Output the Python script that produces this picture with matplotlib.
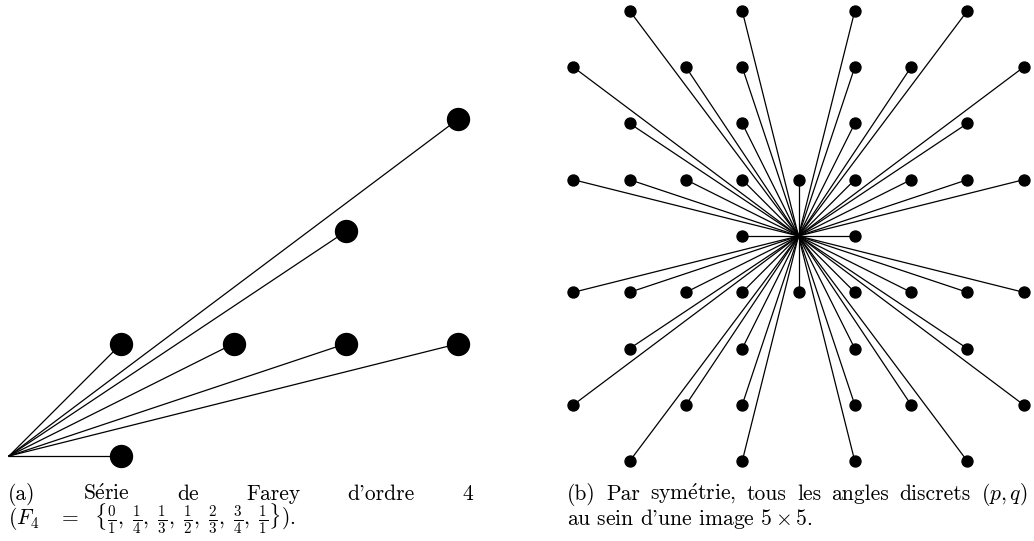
import matplotlib
matplotlib.use("Agg")
import matplotlib.pyplot as plt

plt.rcParams['font.family'] = ['cmr10', 'DejaVu Serif']
plt.rcParams['mathtext.fontset'] = 'cm'
plt.rcParams['axes.formatter.use_mathtext'] = True

# Farey series of order 4: fractions p/q, drawn at (q, p)
farey_p = [0, 1, 1, 1, 2, 3, 1]
farey_q = [1, 4, 3, 2, 3, 4, 1]

# discrete angles (dx, dy) in the 9x9 neighbourhood, row by row
angle_dy = [4, 3, 2, 1, 0, -1, -2, -3, -4]
angle_dx = [
    [-3, -1, 1, 3],
    [-4, -2, -1, 1, 2, 4],
    [-3, -1, 1, 3],
    [-4, -3, -2, -1, 0, 1, 2, 3, 4],
    [-1, 1],
    [-4, -3, -2, -1, 0, 1, 2, 3, 4],
    [-3, -1, 1, 3],
    [-4, -2, -1, 1, 2, 4],
    [-3, -1, 1, 3],
]

E_ACUTE = r"$\mathrm{\acute{e}}$"
caption_a1 = ["(a)", "S" + E_ACUTE + "rie", "de", "Farey", "d'ordre", "4"]
caption_a2 = (r"($F_4\ \ \ =\ \ \{\frac{0}{1},\;\frac{1}{4},\;\frac{1}{3},\;"
              r"\frac{1}{2},\;\frac{2}{3},\;\frac{3}{4},\;\frac{1}{1}\}$).")
caption_b1 = ["(b)", "Par", "sym" + E_ACUTE + "trie,", "tous", "les", "angles",
              "discrets", "$(p,q)$"]
caption_b2 = r"au sein d'une image $5\times5$."

W, H = 1034, 541
fig = plt.figure(figsize=(W / 100, H / 100), dpi=100)


def px_axes(x0, y0, w, h):
    # box in pixels, y measured from the top
    ax = fig.add_axes([x0 / W, 1 - (y0 + h) / H, w / W, h / H])
    ax.set_axis_off()
    return ax


# left panel: unit 112.3 px, origin at (9, 456)
u = 112.3
ax = px_axes(9 - 0.05 * u, 456 - 3.15 * u, 4.2 * u, 3.3 * u)
ax.set_xlim(-0.05, 4.15)
ax.set_ylim(-0.15, 3.15)
for p, q in zip(farey_p, farey_q):
    ax.plot([0, q], [0, p], color='black', lw=0.9, zorder=1, clip_on=False)
ax.plot(farey_q, farey_p, 'o', color='black', ms=15.8, zorder=2, clip_on=False)

# right panel: unit 56.3 px, centre at (798.5, 236)
u = 56.3
ax = px_axes(798.5 - 4.15 * u, 236 - 4.15 * u, 8.3 * u, 8.3 * u)
ax.set_xlim(-4.15, 4.15)
ax.set_ylim(-4.15, 4.15)
xs, ys = [], []
for dy, row in zip(angle_dy, angle_dx):
    for dx in row:
        xs.append(dx)
        ys.append(dy)
        ax.plot([0, dx], [0, dy], color='black', lw=0.9, zorder=1, clip_on=False)
ax.plot(xs, ys, 'o', color='black', ms=7.9, zorder=2, clip_on=False)

# captions
tkw = dict(fontsize=15.5, va='baseline', ha='left')
renderer = fig.canvas.get_renderer()


def justify(words, x0, x1, y):
    objs = [fig.text(0, 0, w, **tkw) for w in words]
    widths = [o.get_window_extent(renderer).width for o in objs]
    gap = (x1 - x0 - sum(widths)) / (len(words) - 1)
    x = x0
    for o, wd in zip(objs, widths):
        o.set_position((x / W, 1 - y / H))
        x += wd + gap


justify(caption_a1, 8, 473, 500)
fig.text(8 / W, 1 - 525 / H, caption_a2, **tkw)
justify(caption_b1, 567, 1028, 500)
fig.text(567 / W, 1 - 525 / H, caption_b2, **tkw)

fig.savefig('out.png', dpi=100)
